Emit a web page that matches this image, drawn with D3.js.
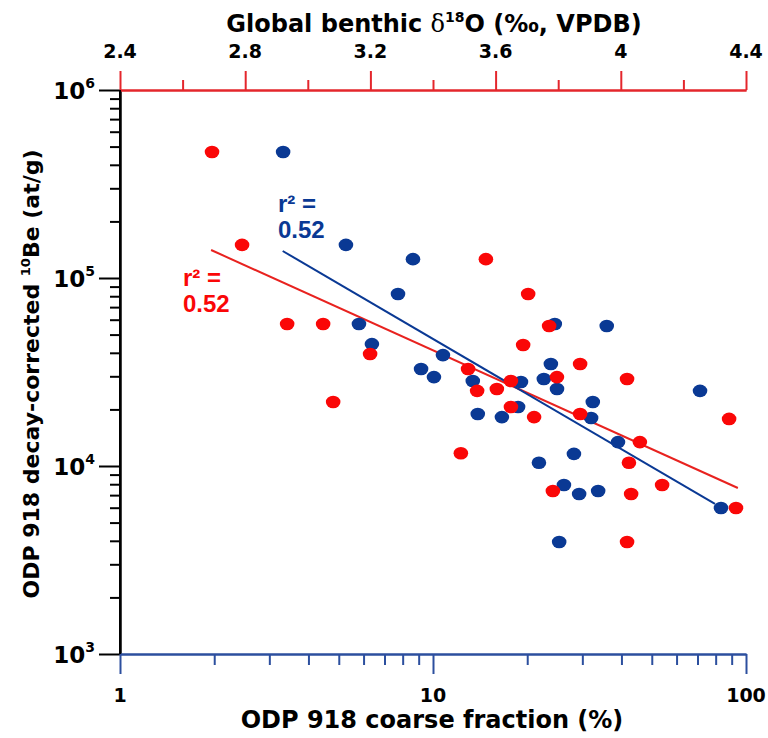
<!DOCTYPE html>
<html><head><meta charset="utf-8">
<script src="https://cdn.jsdelivr.net/npm/d3@7"></script>
<style>
html,body{margin:0;padding:0;background:#fff;}
svg{display:block;}
</style></head>
<body><svg id="c" width="768" height="738"></svg>
<script>
// ---- data ----
// Blue: ODP 918 coarse fraction (%) vs decay-corrected 10Be (at/g)
const blueCoarse = [3.32,5.27,7.73,8.63,5.80,6.38,9.16,10.07,10.76,13.4,13.9,16.6,18.7,19.1,22.6,23.8,24.5,24.9,32.4,32.0,35.9,39.0,21.8,28.2,26.2,29.3,33.7,25.3,71.3,83.2];
const blueBe     = [4.68e5,1.50e5,8.22e4,1.26e5,5.69e4,4.45e4,3.28e4,2.97e4,3.89e4,2.83e4,1.89e4,1.82e4,2.06e4,2.80e4,2.90e4,3.49e4,5.69e4,2.57e4,2.19e4,1.80e4,5.55e4,1.34e4,1.04e4,1.16e4,7.92e3,7.10e3,7.36e3,3.94e3,2.51e4,5.98e3];
// Red: global benthic d18O (permil, VPDB) vs decay-corrected 10Be (at/g)
const redD18O = [2.694,2.790,2.934,3.049,3.081,3.199,3.489,3.569,3.704,3.771,3.688,3.512,3.541,3.604,3.649,3.870,3.796,4.020,3.870,3.649,3.723,4.061,4.346,4.026,4.132,3.783,4.033,4.368,4.020];
const redBe   = [4.68e5,1.50e5,5.69e4,5.69e4,2.19e4,3.94e4,1.17e4,1.26e5,8.22e4,5.55e4,4.40e4,3.28e4,2.51e4,2.57e4,2.83e4,3.49e4,2.97e4,2.90e4,1.89e4,2.06e4,1.82e4,1.34e4,1.78e4,1.04e4,7.92e3,7.36e3,7.10e3,5.98e3,3.94e3];
// regression line end points
const blueFitX = [3.31, 79.6];
const blueFitY = [1.392e5, 6.28e3];
const redFitX  = [2.691, 4.374];
const redFitY  = [1.409e5, 7.64e3];
// tick values
const bottomTicks = [1, 10, 100];
const bottomTickLabels = ["1", "10", "100"];
const topTicks = [2.4, 2.8, 3.2, 3.6, 4.0, 4.4];
const topTickLabels = ["2.4", "2.8", "3.2", "3.6", "4", "4.4"];
const topMinorTicks = [2.6, 3.0, 3.4, 3.8, 4.2];
const leftTicks = [1e3, 1e4, 1e5, 1e6];
const leftTickExps = ["3", "4", "5", "6"];
const r2Text = "0.52";

// ---- drawing ----
const svg = d3.select("#c");
const L = 120, R = 746, T = 90, B = 654;
const RED = "#fa0707", RED_LINE = "#e8221f", BLUE = "#0a3994", BLUE_AX = "#2c4f9e", RED_AX = "#e4262c";
const x = d3.scaleLog().domain([1, 100]).range([L, R]);
const xTop = d3.scaleLinear().domain([2.4, 4.4]).range([L, R]);
const y = d3.scaleLog().domain([1e3, 1e6]).range([B, T]);
const tickFont = "'DejaVu Sans', sans-serif";

function styleAxis(g, color, w) {
  g.select(".domain").attr("stroke", color).attr("stroke-width", w);
  g.selectAll(".tick line").attr("stroke", color).attr("stroke-width", 2);
  g.selectAll(".tick text").remove();
}

// minor ticks for log axes
const minorLog = (lo, hi) => {
  const out = [];
  for (let e = lo; e < hi; e++) for (let k = 2; k <= 9; k++) out.push(k * Math.pow(10, e));
  return out;
};

// left axis (black)
const gLmin = svg.append("g").attr("transform", `translate(${L},0)`)
  .call(d3.axisLeft(y).tickValues(minorLog(3, 6)).tickSize(10).tickSizeOuter(0).tickFormat(""));
styleAxis(gLmin, "#000", 2);
const gL = svg.append("g").attr("transform", `translate(${L},0)`)
  .call(d3.axisLeft(y).tickValues(leftTicks).tickSize(21).tickSizeOuter(0).tickFormat(""));
styleAxis(gL, "#000", 2);
leftTicks.forEach((v, i) => {
  const t = svg.append("text").attr("x", 95).attr("y", y(v) + 9)
    .attr("text-anchor", "end").attr("font-family", tickFont).attr("font-weight", "bold")
    .attr("font-size", 23).attr("fill", "#000");
  t.append("tspan").text("10");
  t.append("tspan").attr("font-size", 14).attr("dy", -11).text(leftTickExps[i]);
});

// bottom axis (blue)
const gBmin = svg.append("g").attr("transform", `translate(0,${B})`)
  .call(d3.axisBottom(x).tickValues(minorLog(0, 2)).tickSize(11).tickSizeOuter(0).tickFormat(""));
styleAxis(gBmin, BLUE_AX, 2);
const gB = svg.append("g").attr("transform", `translate(0,${B})`)
  .call(d3.axisBottom(x).tickValues(bottomTicks).tickSize(20).tickSizeOuter(0).tickFormat(""));
styleAxis(gB, BLUE_AX, 2);
bottomTicks.forEach((v, i) => {
  svg.append("text").attr("x", x(v)).attr("y", 702).attr("text-anchor", "middle")
    .attr("font-family", tickFont).attr("font-weight", "bold").attr("font-size", 19)
    .attr("fill", "#000").text(bottomTickLabels[i]);
});

// top axis (red)
const gTmin = svg.append("g").attr("transform", `translate(0,${T})`)
  .call(d3.axisTop(xTop).tickValues(topMinorTicks).tickSize(10).tickSizeOuter(0).tickFormat(""));
styleAxis(gTmin, RED_AX, 2);
const gT = svg.append("g").attr("transform", `translate(0,${T})`)
  .call(d3.axisTop(xTop).tickValues(topTicks).tickSize(19).tickSizeOuter(0).tickFormat(""));
styleAxis(gT, RED_AX, 2);
topTicks.forEach((v, i) => {
  svg.append("text").attr("x", xTop(v)).attr("y", 58).attr("text-anchor", "middle")
    .attr("font-family", tickFont).attr("font-weight", "bold").attr("font-size", 19)
    .attr("fill", "#000").text(topTickLabels[i]);
});

// re-draw left axis line on top so corners are black
svg.append("line").attr("x1", L).attr("x2", L).attr("y1", T).attr("y2", B)
  .attr("stroke", "#000").attr("stroke-width", 2);

// axis titles
const tb = svg.append("text").attr("x", 434).attr("y", 32).attr("text-anchor", "middle")
  .attr("font-family", tickFont).attr("font-weight", "bold").attr("font-size", 24).attr("fill", "#000");
tb.append("tspan").text("Global benthic ");
tb.append("tspan").attr("font-family", "'DejaVu Serif', serif").attr("font-weight", "normal").text("δ");
tb.append("tspan").attr("font-size", 14).attr("dy", -10).text("18");
tb.append("tspan").attr("dy", 10).text("O (‰, VPDB)");

svg.append("text").attr("x", 432).attr("y", 728).attr("text-anchor", "middle")
  .attr("font-family", tickFont).attr("font-weight", "bold").attr("font-size", 24)
  .attr("fill", "#000").text("ODP 918 coarse fraction (%)");

const ty = svg.append("text").attr("transform", "translate(39,374) rotate(-90)")
  .attr("text-anchor", "middle").attr("font-family", tickFont).attr("font-weight", "bold")
  .attr("font-size", 22).attr("fill", "#000");
ty.append("tspan").text("ODP 918 decay-corrected ");
ty.append("tspan").attr("font-size", 13).attr("dy", -9).text("10");
ty.append("tspan").attr("dy", 9).text("Be (at/g)");

// regression lines
const line = (xs) => d3.line().x(d => xs(d[0])).y(d => y(d[1]));
svg.append("path").datum(redFitX.map((v, i) => [v, redFitY[i]]))
  .attr("d", line(xTop)).attr("stroke", RED_LINE).attr("stroke-width", 2).attr("fill", "none");
svg.append("path").datum(blueFitX.map((v, i) => [v, blueFitY[i]]))
  .attr("d", line(x)).attr("stroke", BLUE).attr("stroke-width", 2).attr("fill", "none");

// points
svg.append("g").selectAll("ellipse").data(blueCoarse.map((v, i) => [v, blueBe[i]])).join("ellipse")
  .attr("cx", d => x(d[0])).attr("cy", d => y(d[1])).attr("rx", 7.3).attr("ry", 6.3).attr("fill", BLUE);
svg.append("g").selectAll("ellipse").data(redD18O.map((v, i) => [v, redBe[i]])).join("ellipse")
  .attr("cx", d => xTop(d[0])).attr("cy", d => y(d[1])).attr("rx", 7.3).attr("ry", 6.3).attr("fill", RED);

// r^2 labels
function r2(xp, yp, color) {
  const g = svg.append("text").attr("x", xp).attr("y", yp).attr("font-family", "'Liberation Sans', Arial, sans-serif")
    .attr("font-weight", "bold").attr("font-size", 24).attr("fill", color);
  g.append("tspan").text("r² =");
  svg.append("text").attr("x", xp).attr("y", yp + 26).attr("font-family", "'Liberation Sans', Arial, sans-serif")
    .attr("font-weight", "bold").attr("font-size", 24).attr("fill", color).text(r2Text);
}
r2(278, 212, BLUE);
r2(183, 286, RED);
</script></body></html>
